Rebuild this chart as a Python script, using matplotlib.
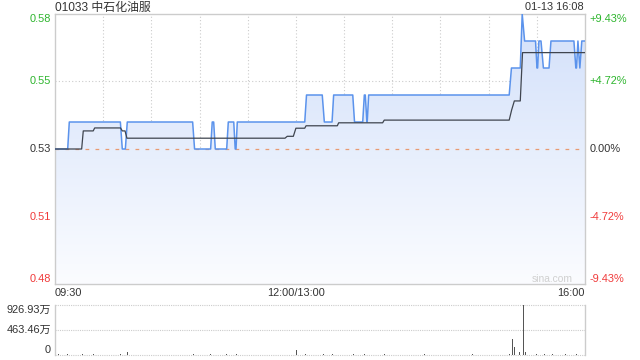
import numpy as np
import matplotlib
matplotlib.use('Agg')
import matplotlib.pyplot as plt
from matplotlib.colors import LinearSegmentedColormap
from matplotlib.patches import Polygon

plt.rcParams['font.family'] = ['Liberation Sans', 'Noto Sans CJK SC']

# minutes from 09:30 (lunch break removed), 330 min session
prev_close = 0.53
price_t = [0, 7.9, 8.9, 40.7, 41.9, 43.8, 45.0, 85.7, 86.9, 96.9, 97.9, 98.8, 99.8,
           106.9, 107.9, 111.3, 112.2, 112.7, 113.5, 155.5, 156.6, 166.4, 167.7,
           172.5, 173.5, 185.4, 186.5, 191.6, 192.6, 193.2, 194.2, 194.4, 195.3,
           282.8, 284.2, 289.7, 290.9, 292.4, 299.2, 300.1, 300.5, 301.3, 302.6,
           304.1, 307.6, 308.8, 323.1, 324.3, 324.7, 325.6, 326.8, 328.0, 330]
price_v = [0.53, 0.53, 0.54, 0.54, 0.53, 0.53, 0.54, 0.54, 0.53, 0.53, 0.54, 0.54, 0.53,
           0.53, 0.54, 0.54, 0.53, 0.53, 0.54, 0.54, 0.55, 0.55, 0.54,
           0.54, 0.55, 0.55, 0.54, 0.54, 0.55, 0.55, 0.54, 0.54, 0.55,
           0.55, 0.56, 0.56, 0.58, 0.57, 0.57, 0.56, 0.56, 0.57, 0.57,
           0.56, 0.56, 0.57, 0.57, 0.56, 0.56, 0.57, 0.56, 0.57, 0.57]
avg_t = [0, 16.6, 17.6, 23.8, 24.7, 40.8, 41.9, 43.6, 44.8, 143.2, 144.6, 148.4,
         150.0, 155.5, 156.3, 175.8, 176.6, 204.0, 205.0, 282.8, 284.3, 286.0,
         289.7, 291.1, 330]
avg_v = [0.53, 0.53, 0.5367, 0.5367, 0.5378, 0.5378, 0.5367, 0.5367, 0.5340, 0.5340,
         0.5347, 0.5347, 0.5377, 0.5377, 0.5386, 0.5386, 0.5397, 0.5397, 0.5407,
         0.5407, 0.5444, 0.5478, 0.5478, 0.5657, 0.5657]
# volume, in 万 shares
vol_t = [2, 8, 17, 24, 41, 45, 86, 97, 107, 113, 150.6, 156, 167, 173, 186, 193,
         205, 230, 260, 283, 284.7, 286.4, 289.5, 291.6, 292.8, 300, 305, 310, 318, 325]
vol_v = [15, 18, 15, 14, 16, 50, 14, 15, 16, 14, 90, 18, 15, 14, 16, 14,
         14, 13, 14, 20, 291, 154, 61, 926.93, 50, 20, 18, 16, 15, 14]

y_ticks = [0.48, 0.505, 0.53, 0.555, 0.58]
y_labels = ['0.48', '0.51', '0.53', '0.55', '0.58']
pct_labels = ['-9.43%', '-4.72%', '0.00%', '+4.72%', '+9.43%']
tick_colors = ['#f03a3a', '#f03a3a', '#333333', '#2db52d', '#2db52d']
x_ticks = [0, 150, 330]
x_labels = ['09:30', '12:00/13:00', '16:00']
vol_ticks = [0, 463.46, 926.93]
vol_labels = ['0', '463.46万', '926.93万']

W, H = 640, 360
fig = plt.figure(figsize=(6.4, 3.6), dpi=100)
ax = fig.add_axes([55 / W, 1 - 284 / H, 530 / W, 270 / H])
vax = fig.add_axes([55 / W, 1 - 355 / H, 530 / W, 50 / H])

grid_c = '#cccccc'
fs = 7.9

# main price panel
ax.set_xlim(0, 330)
ax.set_ylim(0.48, 0.58)
for x in range(30, 330, 30):
    ax.axvline(x, color=grid_c, lw=0.8, ls=(0, (1, 2)), zorder=0)
for y in [0.505, 0.53, 0.555]:
    ax.axhline(y, color=grid_c, lw=0.8, ls=(0, (1, 2)), zorder=0)
ax.axhline(prev_close, color='#e89a72', lw=0.9, ls=(0, (3, 5)), zorder=2)

poly = np.vstack([[price_t[0], 0.48], np.column_stack([price_t, price_v]), [price_t[-1], 0.48]])
patch = Polygon(poly, closed=True, facecolor='none', edgecolor='none')
ax.add_patch(patch)
grad = np.linspace(1, 0, 256).reshape(-1, 1)
cmap = LinearSegmentedColormap.from_list('fill', ['#fbfcff', '#d2e0fa'])
im = ax.imshow(grad, extent=[0, 330, 0.48, 0.58], aspect='auto', cmap=cmap,
               origin='upper', zorder=1)
im.set_clip_path(patch)

ax.plot(price_t, price_v, color='#5b93ec', lw=1.1, zorder=3)
ax.plot(avg_t, avg_v, color='#3f454f', lw=0.9, zorder=4)

ax.set_xticks([])
ax.set_yticks([])
for s in ax.spines.values():
    s.set_color(grid_c)
    s.set_linewidth(1)

for y, lab, pl, c in zip(y_ticks, y_labels, pct_labels, tick_colors):
    va = 'top' if y == 0.58 else ('bottom' if y == 0.48 else 'center')
    ax.annotate(lab, (0, y), xycoords=('axes fraction', 'data'), xytext=(-3, 0),
                textcoords='offset points', ha='right', va=va, color=c, fontsize=fs)
    ax.annotate(pl, (1, y), xycoords=('axes fraction', 'data'), xytext=(3.5, 0),
                textcoords='offset points', ha='left', va=va, color=c, fontsize=fs)

for x, lab, ha in zip(x_ticks, x_labels, ['left', 'center', 'right']):
    ax.annotate(lab, (x, 0), xycoords=('data', 'axes fraction'), xytext=(0, -6.3),
                textcoords='offset points', ha=ha, va='center', color='#333333', fontsize=fs)

fig.text(573 / W, 1 - 279 / H, 'sina.com', ha='right', va='center',
         color='#d0d0d0', fontsize=7.4)
fig.text(55 / W, 1 - 7.5 / H, '01033 中石化油服', ha='left', va='center',
         color='#333333', fontsize=8.6)
fig.text(584 / W, 1 - 7.5 / H, '01-13 16:08', ha='right', va='center',
         color='#333333', fontsize=fs)

# volume panel
vax.set_xlim(0, 330)
vax.set_ylim(0, 926.93)
vax.bar(vol_t, vol_v, width=0.6, color='#555555', zorder=3)
for y in vol_ticks:
    vax.axhline(y, color=grid_c, lw=0.8, ls=(0, (1, 1)), zorder=0, clip_on=False)
vax.set_xticks([])
vax.set_yticks([])
for k, s in vax.spines.items():
    if k in ('top', 'bottom'):
        s.set_visible(False)
    else:
        s.set_color(grid_c)
        s.set_linewidth(1)
for y, lab, va in zip(vol_ticks, vol_labels, ['bottom', 'center', 'top']):
    vax.annotate(lab, (0, y), xycoords=('axes fraction', 'data'), xytext=(-3, 0),
                 textcoords='offset points', ha='right', va=va, color='#333333', fontsize=fs)

fig.savefig('out.png', dpi=100)
